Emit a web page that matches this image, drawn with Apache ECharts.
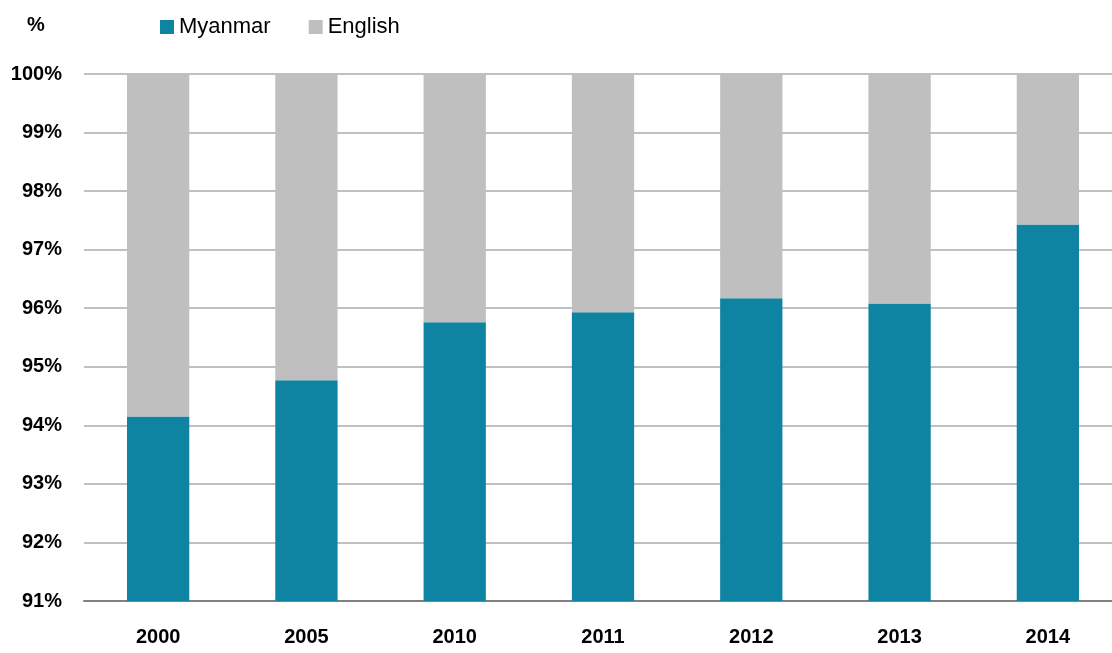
<!DOCTYPE html>
<html>
<head>
<meta charset="utf-8">
<script src="https://cdn.jsdelivr.net/npm/echarts@6/dist/echarts.min.js"></script>
<style>
  html, body { margin: 0; padding: 0; background: #fff; overflow: hidden; }
  #box { width: 1122px; height: 653px; }
</style>
</head>
<body>
<div id="box"></div>
<script>
var years = ['2000', '2005', '2010', '2011', '2012', '2013', '2014'];
var myanmar = [94.15, 94.77, 95.76, 95.93, 96.17, 96.08, 97.43];
var english = [5.85, 5.23, 4.24, 4.07, 3.83, 3.92, 2.57];

// the source picture is cut off at the right edge, so the chart is drawn a bit wider than the window
var myChart = echarts.init(document.getElementById('box'));
var font = 'Liberation Sans, Arial, sans-serif';
var option = {
  animation: false,
  textStyle: { fontFamily: font },
  title: {
    text: '%',
    left: 22,
    top: 10,
    textStyle: { fontSize: 20, fontWeight: 'bold', color: '#000', fontFamily: font }
  },
  legend: {
    left: 155,
    top: 11,
    itemWidth: 14,
    itemHeight: 14,
    itemGap: 38,
    icon: 'rect',
    textStyle: { fontSize: 22, color: '#000', fontFamily: font, letterSpacing: -1 },
    data: ['Myanmar', 'English']
  },
  grid: { left: 84, right: 0, top: 74, bottom: 52, containLabel: false },
  xAxis: {
    type: 'category',
    data: years,
    axisLine: { lineStyle: { color: '#808080', width: 2 } },
    axisTick: { show: false },
    axisLabel: { fontSize: 20, fontWeight: 'bold', color: '#000', margin: 26, fontFamily: font }
  },
  yAxis: {
    type: 'value',
    min: 91,
    max: 100,
    interval: 1,
    axisLine: { show: false },
    axisTick: { show: false },
    splitLine: { lineStyle: { color: '#c0c0c0', width: 2 } },
    axisLabel: {
      fontSize: 20, fontWeight: 'bold', color: '#000', margin: 22, fontFamily: font,
      formatter: '{value}%'
    }
  },
  series: [
    {
      name: 'Myanmar',
      type: 'bar',
      stack: 'lang',
      barWidth: '42%',
      itemStyle: { color: '#0e84a2' },
      data: myanmar
    },
    {
      name: 'English',
      type: 'bar',
      stack: 'lang',
      itemStyle: { color: '#bfbfbf' },
      data: english
    }
  ]
};
myChart.setOption(option);
</script>
</body>
</html>
